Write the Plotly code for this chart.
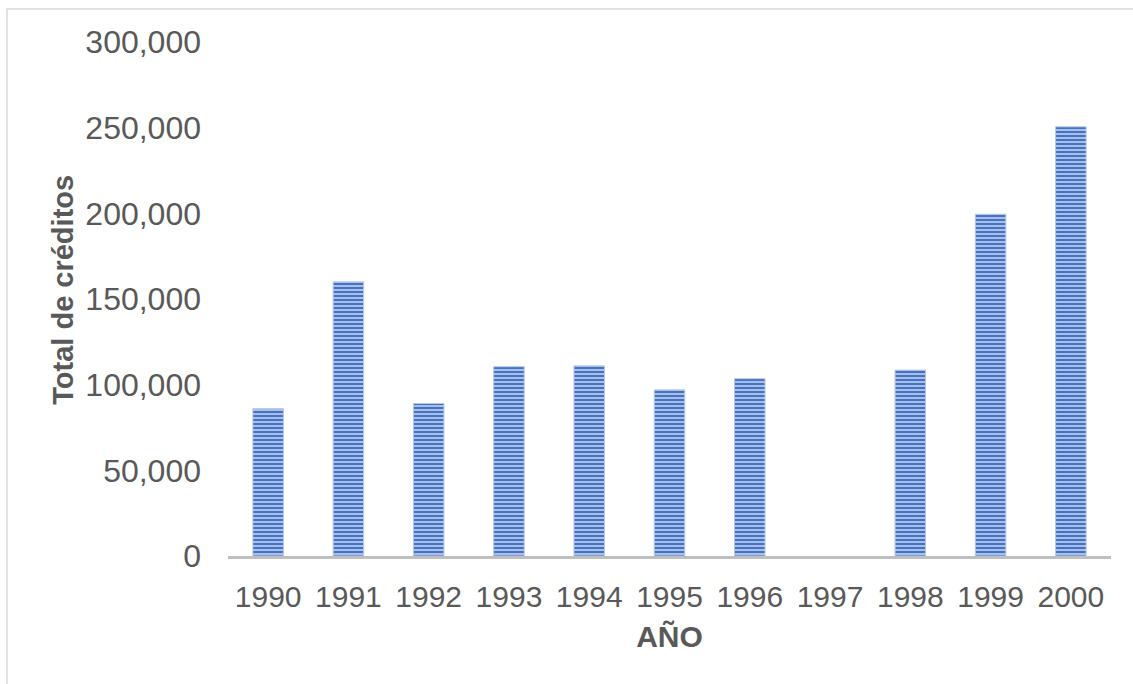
import plotly.graph_objects as go

years = ["1990", "1991", "1992", "1993", "1994", "1995", "1996", "1997", "1998", "1999", "2000"]
creditos = [86000, 160000, 89000, 110500, 111000, 97000, 103500, None, 108500, 199500, 250500]
y_ticks = [0, 50000, 100000, 150000, 200000, 250000, 300000]

BLUE = "#4472C4"
LIGHT = "#C4D3EE"
TEXT = "#595959"
FONT = "Liberation Sans, Arial, sans-serif"

fig = go.Figure(
    go.Bar(
        x=years,
        y=creditos,
        width=0.38,
        marker=dict(
            color=BLUE,
            line=dict(color="#B4C7E7", width=1),
            pattern=dict(shape="-", fgcolor=BLUE, bgcolor=LIGHT,
                         size=4, solidity=0.6, fillmode="replace"),
        ),
        hovertemplate="%{x}: %{y:,}<extra></extra>",
    )
)

fig.update_layout(
    width=1133,
    height=684,
    margin=dict(l=228, r=22, t=42, b=127.5),
    paper_bgcolor="white",
    plot_bgcolor="white",
    font=dict(family=FONT, color=TEXT),
    showlegend=False,
    shapes=[
        dict(type="rect", xref="paper", yref="paper",
             x0=(7 - 228) / 883, x1=(1140 - 228) / 883,
             y0=(556.5 - 690) / 514.5, y1=(556.5 - 9) / 514.5,
             line=dict(color="#D9D9D9", width=1.5), fillcolor="rgba(0,0,0,0)",
             layer="below"),
    ],
    annotations=[
        dict(text="<b>Total de créditos</b>", xref="paper", yref="paper",
             x=(63 - 228) / 883, y=(556.5 - 290) / 514.5,
             xanchor="center", yanchor="middle", textangle=-90, showarrow=False,
             font=dict(size=29, color=TEXT, family=FONT)),
    ],
)

fig.update_xaxes(
    type="category",
    categoryorder="array",
    categoryarray=years,
    showline=True,
    linecolor="#BFBFBF",
    linewidth=3,
    showgrid=False,
    ticks="",
    tickfont=dict(size=30, color=TEXT, family=FONT),
    ticklabelstandoff=12,
    title=dict(text="<b>AÑO</b>", font=dict(size=30, color=TEXT, family=FONT), standoff=14),
)

fig.update_yaxes(
    range=[0, 300000],
    tickvals=y_ticks,
    tickformat=",",
    showline=False,
    showgrid=False,
    zeroline=False,
    ticks="",
    tickfont=dict(size=32, color=TEXT, family=FONT),
    ticklabelstandoff=26,
)

fig.write_html("out.html")
